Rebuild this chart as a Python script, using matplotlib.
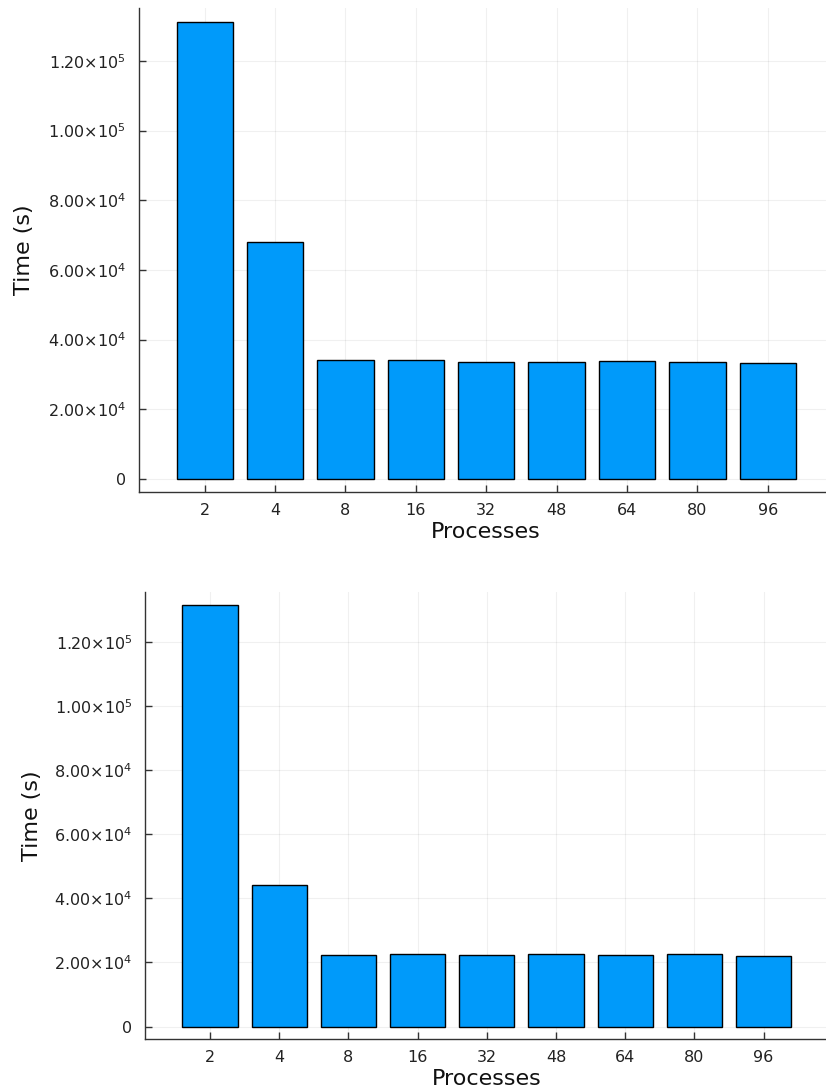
import numpy as np
import matplotlib
matplotlib.use("Agg")
import matplotlib.pyplot as plt

processes = ["2", "4", "8", "16", "32", "48", "64", "80", "96"]
time_top = [131200, 68000, 34150, 34100, 33650, 33650, 33850, 33600, 33300]
time_bottom = [131450, 44150, 22400, 22550, 22400, 22550, 22250, 22650, 22100]

ytick_values = [0, 20000, 40000, 60000, 80000, 100000, 120000]
ytick_labels = ["0", "2.00×10$^{4}$", "4.00×10$^{4}$", "6.00×10$^{4}$",
                "8.00×10$^{4}$", "1.00×10$^{5}$", "1.20×10$^{5}$"]

BAR_COLOR = "#009AFA"
AXIS_COLOR = "#333333"

plt.rcParams["font.family"] = ["DejaVu Sans"]
plt.rcParams["mathtext.fontset"] = "dejavusans"

W, H = 826, 1091
fig = plt.figure(figsize=(W / 100, H / 100), dpi=100)


def px_axes(left, right, top, bottom):
    # axes box from pixel edges (origin at top left)
    return fig.add_axes([left / W, 1 - bottom / H, (right - left) / W, (bottom - top) / H])


def draw(ax, values, ylim):
    x = np.arange(len(processes))
    ax.bar(x, values, width=0.8, color=BAR_COLOR, edgecolor="black", linewidth=1.0, zorder=3)
    ax.set_xlim(-0.94, 8.94)
    ax.set_ylim(*ylim)
    ax.set_xticks(x)
    ax.set_xticklabels(processes)
    ax.set_yticks(ytick_values)
    ax.set_yticklabels(ytick_labels)
    ax.grid(True, color="black", alpha=0.06, linewidth=0.8, zorder=0)
    for side in ["top", "right"]:
        ax.spines[side].set_visible(False)
    for side in ["left", "bottom"]:
        ax.spines[side].set_color(AXIS_COLOR)
        ax.spines[side].set_linewidth(1.0)
    ax.tick_params(axis="both", direction="in", length=5, width=1, color=AXIS_COLOR,
                   labelsize=11.5, labelcolor="#222222")
    ax.tick_params(axis="y", pad=9)
    ax.tick_params(axis="x", pad=8)
    ax.set_xlabel("Processes", fontsize=16, color="#111111", labelpad=3)
    ax.set_ylabel("Time (s)", fontsize=16, color="#111111")
    ax.yaxis.set_label_coords(-0.15, 0.5)


ax_top = px_axes(138.5, 834, 8, 491.7)
draw(ax_top, time_top, (-3650, 135200))

ax_bottom = px_axes(145, 828.6, 592, 1039)
draw(ax_bottom, time_bottom, (-3870, 135500))

fig.savefig("out.png", dpi=100)
